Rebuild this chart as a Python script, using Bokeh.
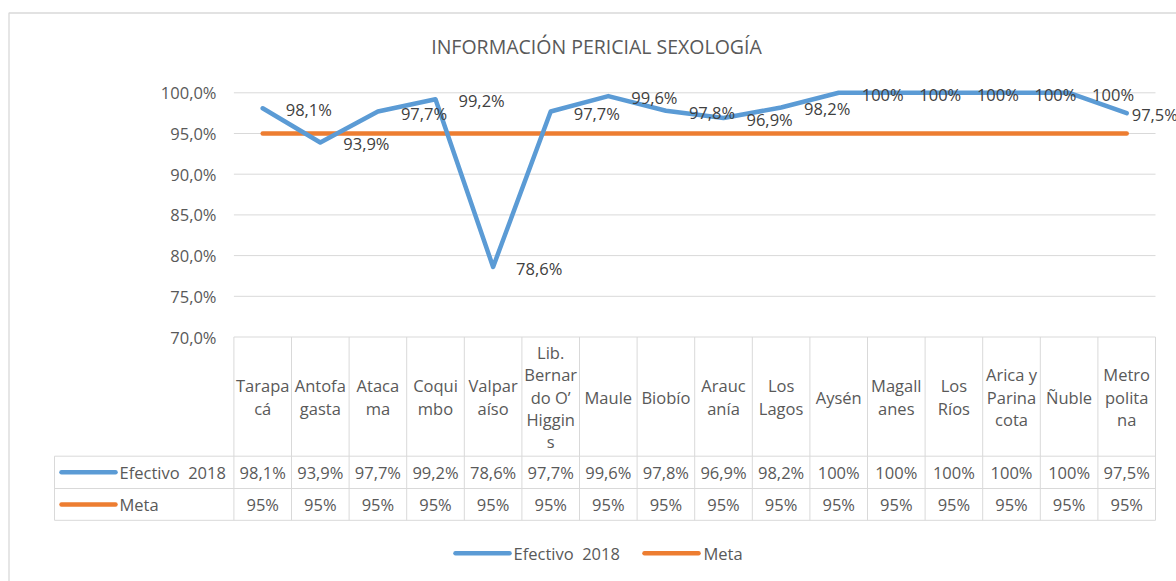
from bokeh.plotting import figure
from bokeh.models import Range1d
from bokeh.embed import file_html
from bokeh.resources import INLINE
from bokeh.core.properties import value

# ---------------- data ----------------
chart_title = "INFORMACIÓN PERICIAL SEXOLOGÍA"
categories = ["Tarapa\ncá", "Antofa\ngasta", "Ataca\nma", "Coqui\nmbo", "Valpar\naíso",
              "Lib.\nBernar\ndo O’\nHiggin\ns", "Maule", "Biobío", "Arauc\nanía",
              "Los\nLagos", "Aysén", "Magall\nanes", "Los\nRíos", "Arica y\nParina\ncota",
              "Ñuble", "Metro\npolita\nna"]
efectivo = [98.1, 93.9, 97.7, 99.2, 78.6, 97.7, 99.6, 97.8, 96.9, 98.2,
            100, 100, 100, 100, 100, 97.5]
meta = [95, 95, 95, 95, 95, 95, 95, 95, 95, 95, 95, 95, 95, 95, 95, 95]
series_names = ["Efectivo\u00a0 2018", "Meta"]
series_colors = ["#5B9BD5", "#ED7D31"]
y_ticks = [70, 75, 80, 85, 90, 95, 100]

# ---------------- layout (page pixels) ----------------
W, H = 1176, 581
ORG = 0
LEFT, RIGHT = 233.4, 1155.0
COLW = (RIGHT - LEFT) / len(categories)
Y100, Y70 = 92.3, 336.5
PXPCT = (Y70 - Y100) / 30.0


def X(px):
    return (px - LEFT) / COLW


def Y(py):
    return 100 - (py - Y100) / PXPCT


FONT = value("Open Sans")
TXT = "#595959"
GRID = "#D9D9D9"
FS = "16.5px"


def fmt_pct(v):
    if float(v).is_integer():
        return "%d%%" % v
    return ("%.1f%%" % v).replace(".", ",")


def fmt_tick(v):
    return ("%.1f%%" % v).replace(".", ",")


p = figure(width=W, height=H,
           x_range=Range1d(X(ORG), X(ORG + W)),
           y_range=Range1d(Y(ORG + H), Y(ORG)),
           output_backend="svg", toolbar_location=None, tools="",
           x_axis_location=None, y_axis_location=None, min_border=0)
p.min_border_left = p.min_border_right = p.min_border_top = p.min_border_bottom = 0
p.outline_line_color = None
p.xgrid.visible = False
p.ygrid.visible = False
p.background_fill_color = "white"
p.border_fill_color = "white"

# outer chart border
p.quad(left=[X(8.5)], right=[X(1400)], top=[Y(12.5)], bottom=[Y(800)],
       fill_color=None, line_color=GRID, line_width=1.3)

# title
p.text(x=[X(596)], y=[Y(46)], text=[chart_title], text_align="center",
       text_baseline="middle", text_font=FONT, text_font_size="19.5px", text_color=TXT)

# gridlines + y tick labels
n = len(categories)
p.segment(x0=[X(LEFT)] * len(y_ticks), x1=[X(RIGHT)] * len(y_ticks),
          y0=y_ticks, y1=y_ticks, line_color=GRID, line_width=1)
p.text(x=[X(216)] * len(y_ticks), y=y_ticks, text=[fmt_tick(t) for t in y_ticks],
       text_align="right", text_baseline="middle", text_font=FONT,
       text_font_size=FS, text_color=TXT)

xs = [i + 0.5 for i in range(n)]

# series lines
p.line(xs, meta, line_color=series_colors[1], line_width=4.5, line_cap="round",
       line_join="round")
p.line(xs, efectivo, line_color=series_colors[0], line_width=4.5, line_cap="round",
       line_join="round")

# data labels (right of points; last one pulled inside the chart area)
x_offs = [23 if i < n - 1 else 5 for i in range(n)]
p.text(x=xs, y=efectivo, text=[fmt_pct(v) for v in efectivo], x_offset=x_offs,
       y_offset=1.5, text_align="left", text_baseline="middle", text_font=FONT,
       text_font_size=FS, text_color="#404040")

# ---------------- data table ----------------
T_TOP, R1, R2, T_BOT = 336.5, 455.7, 488.0, 519.8
TBL_LEFT = 54.0
vx = [X(LEFT + k * COLW) for k in range(n + 1)]
p.segment(x0=vx, x1=vx, y0=[Y(T_TOP)] * len(vx), y1=[Y(T_BOT)] * len(vx),
          line_color=GRID, line_width=1)
p.segment(x0=[X(TBL_LEFT)], x1=[X(TBL_LEFT)], y0=[Y(R1)], y1=[Y(T_BOT)],
          line_color=GRID, line_width=1)
hy = [Y(R1), Y(R2), Y(T_BOT)]
p.segment(x0=[X(TBL_LEFT)] * 3, x1=[X(RIGHT)] * 3, y0=hy, y1=hy,
          line_color=GRID, line_width=1)

# header
p.text(x=xs, y=[Y((T_TOP + R1) / 2 + 0.5)] * n, text=categories, text_align="center",
       text_baseline="middle", text_font=FONT, text_font_size=FS,
       text_color=TXT, text_line_height=0.97)
# rows
row_y = [(R1 + R2) / 2, (R2 + T_BOT) / 2]
p.text(x=xs, y=[Y(row_y[0])] * n, text=[fmt_pct(v) for v in efectivo],
       text_align="center", text_baseline="middle", text_font=FONT,
       text_font_size=FS, text_color=TXT)
p.text(x=xs, y=[Y(row_y[1])] * n, text=[fmt_pct(v) for v in meta],
       text_align="center", text_baseline="middle", text_font=FONT,
       text_font_size=FS, text_color=TXT)
for k in range(2):
    p.segment(x0=[X(61)], x1=[X(115)], y0=[Y(row_y[k])], y1=[Y(row_y[k])],
              line_color=series_colors[k], line_width=4.5, line_cap="round")
    p.text(x=[X(119)], y=[Y(row_y[k])], text=[series_names[k]], text_align="left",
           text_baseline="middle", text_font=FONT, text_font_size=FS,
           text_color=TXT)

# ---------------- bottom legend ----------------
LEG_Y = 552.7
leg = [(455, 509, 513), (644, 698, 703)]
for k in range(2):
    a, b, t = leg[k]
    p.segment(x0=[X(a)], x1=[X(b)], y0=[Y(LEG_Y)], y1=[Y(LEG_Y)],
              line_color=series_colors[k], line_width=4.5, line_cap="round")
    p.text(x=[X(t)], y=[Y(LEG_Y)], text=[series_names[k]], text_align="left",
           text_baseline="middle", text_font=FONT, text_font_size=FS,
           text_color=TXT)

open("out.html", "w").write(file_html(p, INLINE))
